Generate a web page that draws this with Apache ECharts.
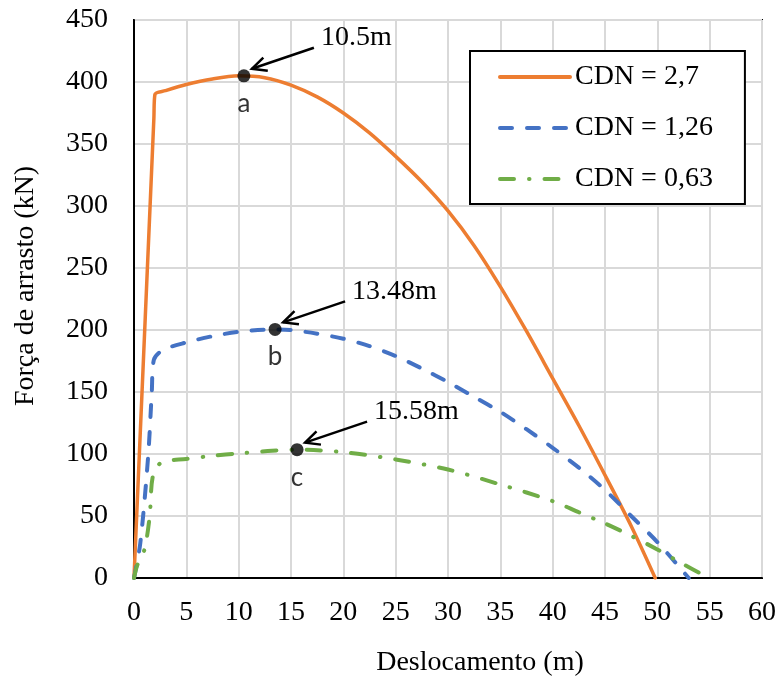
<!DOCTYPE html>
<html>
<head>
<meta charset="utf-8">
<script src="https://cdn.jsdelivr.net/npm/echarts@6/dist/echarts.min.js"></script>
<style>
  html, body { margin: 0; padding: 0; background: #fff; }
  #chart { width: 779px; height: 678px; }
</style>
</head>
<body>
<div id="chart"></div>
<script>
// Deslocamento (m) vs. força de arrasto (kN) for three CDN values
const seriesNames = ['CDN = 2,7', 'CDN = 1,26', 'CDN = 0,63'];

const cdn27X = [0, 1.9, 2, 3, 5, 7.5, 10, 12.5, 15, 17.5, 20, 22.5, 25, 27.5, 30, 32.5, 35, 37.5, 40, 42.5, 45, 47.5, 49.8];
const cdn27Y = [0, 371, 390, 393, 398, 402.5, 405, 403.5, 397.5, 388, 375, 359, 340, 319.5, 296, 268, 235, 199, 161, 123, 83, 42, 0];

const cdn126X = [0, 0.6, 1.35, 1.7, 1.9, 2.8, 5, 7.5, 10, 13.48, 15, 17.5, 20, 22.5, 25, 27.5, 30, 32.5, 35, 37.5, 40, 42.5, 45, 47.5, 50, 53];
const cdn126Y = [0, 28, 98, 150, 176, 184, 190, 195, 198.5, 200.5, 200, 197, 193, 187, 179, 169, 158, 146, 134, 120, 105, 89, 71, 50, 29, 0];

const cdn063X = [0, 0.3, 1, 1.5, 1.8, 2.6, 5, 7.5, 10, 15.58, 20, 25, 30, 35, 40, 42.5, 45, 47.5, 50, 52.5, 54.5];
const cdn063Y = [0, 10, 23, 50, 82, 93, 96, 98.5, 100.5, 103.5, 101.5, 95.6, 87.5, 75.4, 62, 53, 44, 34, 23, 11, 2];

// Peak markers a, b, c and the displacement each one is annotated with
const peakX = [10.5, 13.48, 15.58];
const peakY = [405, 200.5, 103.5];
const peakLetters = ['a', 'b', 'c'];

// Axis ticks
const xTicks = { min: 0, max: 60, step: 5 };
const yTicks = { min: 0, max: 450, step: 50 };

const colors = ['#ED7D31', '#4472C4', '#70AD47'];
const dashes = ['solid', [12, 15], [14, 15, 0.5, 15]];
const widths = [3.5, 4, 4];
const SERIF = '"Liberation Serif", "Times New Roman", serif';

const zip = (xs, ys) => xs.map((x, i) => [x, ys[i]]);
const curves = [zip(cdn27X, cdn27Y), zip(cdn126X, cdn126Y), zip(cdn063X, cdn063Y)];

const chart = echarts.init(document.getElementById('chart'), null, { renderer: 'canvas' });

const lineSeries = curves.map((data, i) => ({
  name: seriesNames[i],
  type: 'line',
  data: data,
  smooth: 0.3,
  symbol: 'none',
  showSymbol: false,
  z: 3,
  lineStyle: { color: colors[i], width: widths[i], type: dashes[i], cap: 'round', join: 'round' },
  itemStyle: { color: colors[i] },
  emphasis: { disabled: true }
}));

const option = {
  animation: false,
  backgroundColor: '#fff',
  grid: {
    left: 134, right: 17, top: 20, bottom: 100,
    containLabel: false, outerBoundsMode: 'none',
    show: true, borderColor: '#000', borderWidth: 2, backgroundColor: 'transparent'
  },
  legend: {
    data: seriesNames,
    orient: 'vertical',
    left: 470, top: 51,
    padding: [12, 32, 11, 28],
    itemWidth: 70, itemHeight: 28, itemGap: 23,
    backgroundColor: '#fff',
    borderColor: '#000', borderWidth: 2,
    selectedMode: false,
    // only the line sample is shown, without a symbol on it
    itemStyle: { opacity: 0, borderWidth: 0 },
    lineStyle: { width: 4, cap: 'round' },
    textStyle: { fontFamily: SERIF, fontSize: 28, color: '#000' }
  },
  xAxis: {
    type: 'value', min: xTicks.min, max: xTicks.max, interval: xTicks.step,
    name: 'Deslocamento (m)', nameLocation: 'middle', nameGap: 71,
    nameTextStyle: { fontFamily: SERIF, fontSize: 28, color: '#000', padding: [0, 0, 0, 64] },
    axisLine: { show: true, lineStyle: { color: '#000', width: 2 } },
    axisTick: { show: false },
    axisLabel: { fontFamily: SERIF, fontSize: 28, color: '#000', margin: 21 },
    splitLine: { show: true, lineStyle: { color: '#D9D9D9', width: 2 } }
  },
  yAxis: {
    type: 'value', min: yTicks.min, max: yTicks.max, interval: yTicks.step,
    name: 'Força de arrasto (kN)', nameLocation: 'middle', nameGap: 94,
    nameTextStyle: { fontFamily: SERIF, fontSize: 28, color: '#000', padding: [0, 0, 0, 26] },
    axisLine: { show: true, lineStyle: { color: '#000', width: 2 } },
    axisTick: { show: false },
    axisLabel: { fontFamily: SERIF, fontSize: 28, color: '#000', margin: 26 },
    splitLine: { show: true, lineStyle: { color: '#D9D9D9', width: 2 } }
  },
  series: lineSeries.concat([{
    name: 'picos',
    type: 'scatter',
    data: peakX.map((x, i) => [x, peakY[i]]),
    symbol: 'circle',
    symbolSize: 13,
    z: 5,
    itemStyle: { color: '#000' },
    emphasis: { disabled: true },
    label: {
      show: true, position: 'bottom', distance: 8,
      formatter: p => peakLetters[p.dataIndex],
      fontFamily: 'Lato, "Open Sans", sans-serif', fontSize: 26, color: '#000'
    }
  }])
};

chart.setOption(option);

// Arrows and displacement texts, anchored to each peak marker
const graphics = [];
peakX.forEach((x, i) => {
  const [px, py] = chart.convertToPixel({ gridIndex: 0 }, [x, peakY[i]]);
  const tip = [px + 8, py - 7];
  const tail = [px + 70, py - 28];
  const ang = Math.atan2(tail[1] - tip[1], tail[0] - tip[0]);
  const head = 16, spread = 0.45;
  const w1 = [tip[0] + head * Math.cos(ang + spread), tip[1] + head * Math.sin(ang + spread)];
  const w2 = [tip[0] + head * Math.cos(ang - spread), tip[1] + head * Math.sin(ang - spread)];
  graphics.push({
    type: 'line', z: 10,
    shape: { x1: tail[0], y1: tail[1], x2: tip[0], y2: tip[1] },
    style: { stroke: '#000', lineWidth: 2.5 }
  });
  graphics.push({
    type: 'polyline', z: 10,
    shape: { points: [w1, tip, w2] },
    style: { stroke: '#000', lineWidth: 2.5, fill: null, lineJoin: 'miter' }
  });
  graphics.push({
    type: 'text', z: 10,
    x: px + 77, y: py - 38,
    style: {
      text: String(x) + 'm', fill: '#000',
      font: '28px ' + SERIF, textAlign: 'left', textVerticalAlign: 'middle'
    }
  });
});
chart.setOption({ graphic: graphics });
</script>
</body>
</html>
